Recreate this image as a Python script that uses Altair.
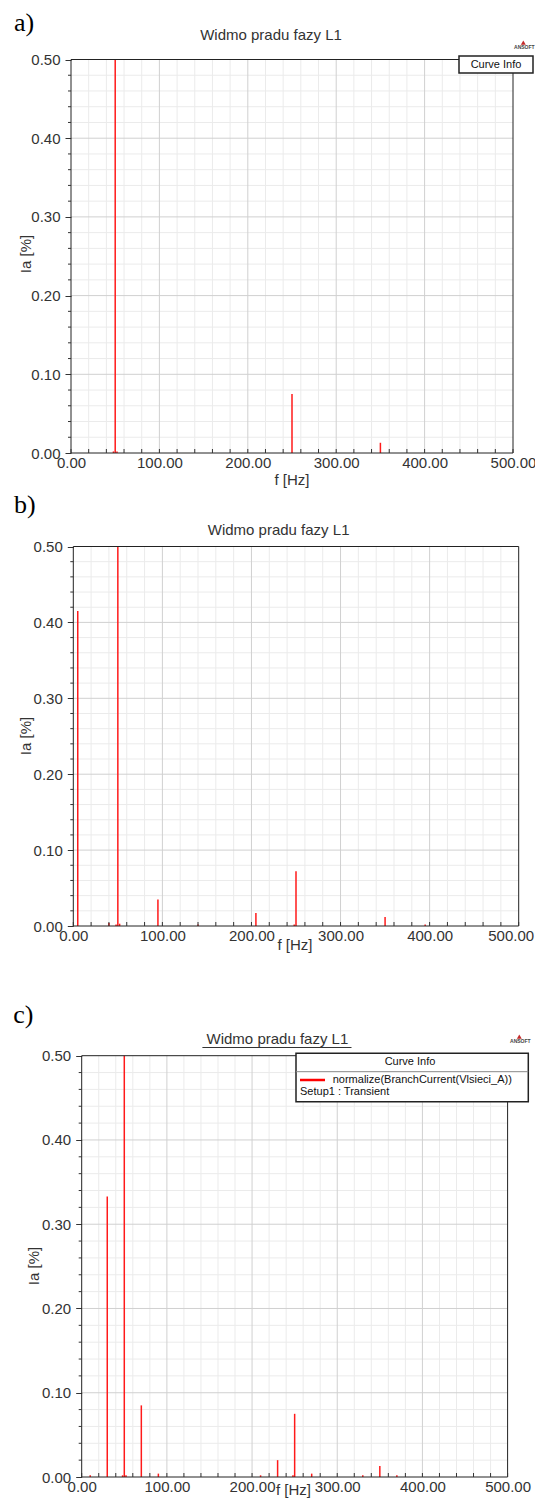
import altair as alt
import pandas as pd

FONT = "Liberation Sans"
SERIF = "Liberation Serif"
RED = "#ff1a1a"
TXT = "#333333"
VIEW_W, VIEW_H = 527, 1490
OX, OY = 8, 8  # page margin (page coords -> view coords)

# ---------------- data ----------------
a_freq = [48, 50, 52, 250, 350]
a_amp = [0.002, 0.5, 0.002, 0.075, 0.013]

b_freq = [5, 40, 48, 50, 52, 95, 140, 205, 248, 250, 350, 395]
b_amp = [0.415, 0.004, 0.002, 0.5, 0.003, 0.035, 0.002, 0.017, 0.002, 0.072, 0.012, 0.002]

c_freq = [10, 30, 48, 50, 52, 70, 90, 210, 230, 248, 250, 270, 330, 350, 370]
c_amp = [0.002, 0.333, 0.002, 0.5, 0.002, 0.085, 0.004, 0.002, 0.02, 0.002, 0.075, 0.004, 0.002, 0.013, 0.002]

x_major = [0, 100, 200, 300, 400, 500]
x_minor = [20, 40, 60, 80, 120, 140, 160, 180, 220, 240, 260, 280,
           320, 340, 360, 380, 420, 440, 460, 480]
y_major = [0.0, 0.1, 0.2, 0.3, 0.4, 0.5]
y_minor = [0.02, 0.04, 0.06, 0.08, 0.12, 0.14, 0.16, 0.18, 0.22, 0.24, 0.26, 0.28,
           0.32, 0.34, 0.36, 0.38, 0.42, 0.44, 0.46, 0.48]

title_text = "Widmo pradu fazy L1"
x_title = "f [Hz]"
y_title = "Ia [%]"
panel_labels = ["a)", "b)", "c)"]
legend_header = "Curve Info"
legend_curve = "normalize(BranchCurrent(Vlsieci_A))"
legend_setup = "Setup1 : Transient"
logo_text = "ANSOFT"


def txt(s, x, y, size=15, font=FONT, align="center", baseline="alphabetic",
        color=TXT, angle=0, weight="normal"):
    """x, y in page coordinates."""
    return alt.Chart(pd.DataFrame({"t": [s]})).mark_text(
        font=font, fontSize=size, align=align, baseline=baseline, color=color,
        angle=angle, fontWeight=weight
    ).encode(text="t:N", x=alt.value(x - OX), y=alt.value(y - OY))


def one():
    return alt.Chart(pd.DataFrame({"k": [0]}))


def panel(freq, amp, g, label, last_shift=0):
    x0, x1, yT, yB = g["x0"] - OX, g["x1"] - OX, g["yT"] - OY, g["yB"] - OY
    xs = alt.Scale(domain=[0, 500], range=[x0, x1], nice=False, zero=False)
    ys = alt.Scale(domain=[0, 0.5], range=[yB, yT], nice=False, zero=False, clamp=True)
    xkw = {}
    if last_shift:
        xkw["labelOffset"] = {"condition": {"test": "datum.value == 500",
                                            "value": last_shift}, "value": 0}
    xax = alt.Axis(orient="bottom", values=x_major, format=".2f", title=None, grid=False,
                   tickSize=0, labelPadding=2, labelFont=FONT, labelFontSize=15,
                   labelColor=TXT, domain=False, labelFlush=False, labelOverlap=False,
                   offset=yB - VIEW_H, **xkw)
    yax = alt.Axis(orient="left", values=y_major, format=".2f", title=None, grid=False,
                   tickSize=6, tickColor="#333333", labelPadding=5, labelFont=FONT,
                   labelFontSize=15, labelColor=TXT, domain=False, labelOverlap=False,
                   offset=-x0)

    def X(field, axis=None):
        return alt.X(field, scale=xs, axis=axis)

    def Y(field, axis=None):
        return alt.Y(field, scale=ys, axis=axis)

    def XD(v):
        return alt.XDatum(v, scale=xs, axis=None)

    def YD(v):
        return alt.YDatum(v, scale=ys, axis=None)

    layers = []
    # grid
    layers.append(alt.Chart(pd.DataFrame({"f": x_minor})).mark_rule(
        color="#ebebeb", strokeWidth=1).encode(x=X("f:Q"), y=YD(0), y2=alt.Y2Datum(0.5)))
    layers.append(alt.Chart(pd.DataFrame({"v": y_minor})).mark_rule(
        color="#ebebeb", strokeWidth=1).encode(y=Y("v:Q"), x=XD(0), x2=alt.X2Datum(500)))
    layers.append(alt.Chart(pd.DataFrame({"f": x_major[1:-1]})).mark_rule(
        color="#d0d0d0", strokeWidth=1).encode(x=X("f:Q"), y=YD(0), y2=alt.Y2Datum(0.5)))
    layers.append(alt.Chart(pd.DataFrame({"v": y_major[1:-1]})).mark_rule(
        color="#d0d0d0", strokeWidth=1).encode(y=Y("v:Q"), x=XD(0), x2=alt.X2Datum(500)))
    # spectrum lines (carry the axes)
    df = pd.DataFrame({"f": freq, "amp": amp})
    layers.append(alt.Chart(df).mark_rule(color=RED, strokeWidth=1.5).encode(
        x=X("f:Q", xax), y=Y("amp:Q", yax), y2=alt.Y2Datum(0)))
    # frame
    layers.append(one().mark_rect(fillOpacity=0, stroke="#222222", strokeWidth=1).encode(
        x=XD(0), x2=alt.X2Datum(500), y=YD(0), y2=alt.Y2Datum(0.5)))
    # minor ticks
    layers.append(alt.Chart(pd.DataFrame({"v": y_minor})).mark_rule(
        color="#333333", strokeWidth=1, x2Offset=-3).encode(
        y=Y("v:Q"), x=XD(0), x2=alt.X2Datum(0)))
    layers.append(alt.Chart(pd.DataFrame({"f": x_minor + x_major})).mark_rule(
        color="#333333", strokeWidth=1, y2Offset=-4).encode(
        x=X("f:Q"), y=YD(0), y2=alt.Y2Datum(0)))
    # texts
    layers.append(txt(label, g["lab"][0], g["lab"][1], size=26, font=SERIF,
                      align="left", color="#000000"))
    layers.append(txt(title_text, g["tit"][0], g["tit"][1], size=15))
    layers.append(txt(y_title, g["yt"][0], g["yt"][1], size=15, angle=270,
                      baseline="middle"))
    layers.append(txt(x_title, g["xt"][0], g["xt"][1], size=15))
    return layers


def logo(x, y):
    return [
        one().mark_point(shape="triangle-up", filled=True, color="#c42a2a",
                         size=24, opacity=1).encode(x=alt.value(x - OX), y=alt.value(y - OY)),
        txt(logo_text, x + 1, y + 6.5, size=5, weight="bold", color="#444444"),
    ]


def box(x0, x1, y0, y1, stroke="#222222", sw=1.5):
    return one().mark_rect(fill="white", stroke=stroke, strokeWidth=sw).encode(
        x=alt.value(x0 - OX), x2=alt.value(x1 - OX), y=alt.value(y0 - OY), y2=alt.value(y1 - OY))


def hline(x0, x1, y, color="#333333", sw=1):
    return one().mark_rule(color=color, strokeWidth=sw).encode(
        x=alt.value(x0 - OX), x2=alt.value(x1 - OX), y=alt.value(y - OY))


# panel geometry in page pixels
ga = dict(x0=71, x1=513, yT=59.5, yB=453,
          lab=(14, 31), tit=(271, 40), yt=(26, 254), xt=(292, 485))
gb = dict(x0=73.3, x1=518.7, yT=546.5, yB=926,
          lab=(14, 513.3), tit=(278.6, 535), yt=(26, 736), xt=(295, 950))
gc = dict(x0=81.7, x1=507.6, yT=1055.7, yB=1477,
          lab=(13.3, 1023.3), tit=(277.4, 1044), yt=(34, 1266), xt=(293.4, 1495))

layers = []
layers += panel(a_freq, a_amp, ga, panel_labels[0])
layers += logo(523.3, 42.7)
layers += [box(459, 533, 56, 73),
           txt(legend_header, 496, 64.5, size=11, baseline="middle", color="#111111")]

layers += panel(b_freq, b_amp, gb, panel_labels[1], last_shift=-8)

layers += panel(c_freq, c_amp, gc, panel_labels[2])
layers += [hline(202.4, 351.5, 1047.5)]
layers += logo(519.3, 36.7 + 1000)
layers += [box(296, 528.3, 1053.3, 1101.7),
           hline(296, 528.3, 1071.7, color="#888888"),
           txt(legend_header, 410, 1062.3, size=11, baseline="middle", color="#111111"),
           hline(300, 325, 1080, color="#ff0000", sw=2.5),
           txt(legend_curve, 332.7, 1080, size=11, align="left", baseline="middle",
               color="#111111"),
           txt(legend_setup, 300, 1091.7, size=11, align="left", baseline="middle",
               color="#111111")]

chart = alt.layer(*layers).resolve_scale(
    x="independent", y="independent"
).properties(
    width=VIEW_W, height=VIEW_H, padding=0, background="white",
    autosize=alt.AutoSizeParams(type="none")
).configure_view(strokeWidth=0)

chart.save("out.html", embed_options={"renderer": "svg", "actions": False})
